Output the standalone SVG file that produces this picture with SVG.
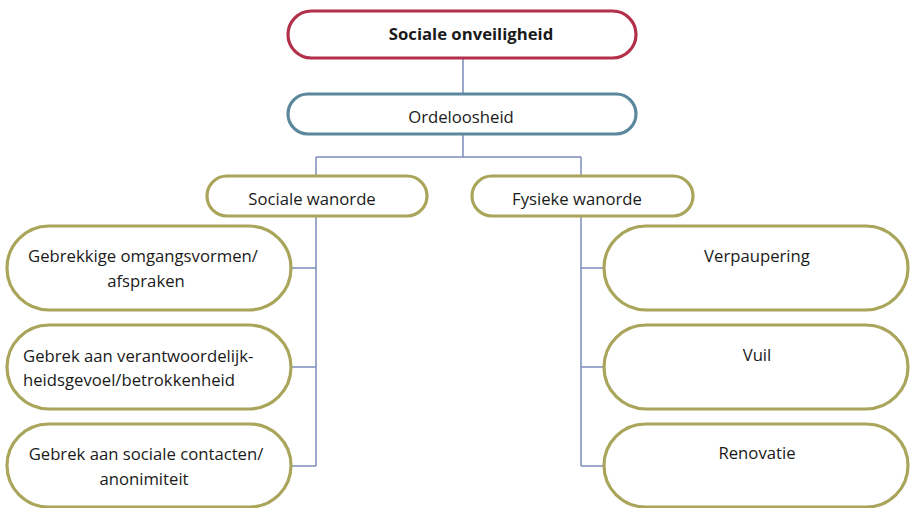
<svg xmlns="http://www.w3.org/2000/svg" width="910" height="508" viewBox="0 0 910 508">
<style>
.box{fill:#fff;stroke-width:3.2}
.red{stroke:#B3304A}
.teal{stroke:#5A879C}
.olive{stroke:#A9A55A}
.t{font-family:"Open Sans","Liberation Sans",sans-serif;font-size:16.7px;fill:#1a1a1a;text-anchor:middle}
.b{font-weight:bold}
.ln{fill:none;stroke:#7D8CBD;stroke-width:1.5}
</style>
<rect width="910" height="508" fill="#fff"/>
<g id="connectors">
<path class="ln" d="M463 58V94M463 134V157M316 157H581M316 157V176M581 157V176"/>
<path class="ln" d="M316 216V466M290 268H316M290 367H316M290 466H316"/>
<path class="ln" d="M581 216V466M581 268H604M581 367H604M581 466H604"/>
</g>
<g id="n-sociale-onveiligheid">
<rect class="box red" x="288" y="11" width="348" height="47" rx="23.5"/>
<text class="t b" x="471" y="40">Sociale onveiligheid</text>
</g>
<g id="n-ordeloosheid">
<rect class="box teal" x="288" y="94" width="348" height="40" rx="20"/>
<text class="t" x="461" y="123">Ordeloosheid</text>
</g>
<g id="n-sociale-wanorde">
<rect class="box olive" x="207" y="176" width="220" height="40" rx="20"/>
<text class="t" x="312" y="205">Sociale wanorde</text>
</g>
<g id="n-fysieke-wanorde">
<rect class="box olive" x="472" y="176" width="221" height="40" rx="20"/>
<text class="t" x="577" y="205">Fysieke wanorde</text>
</g>
<g id="n-omgangsvormen">
<rect class="box olive" x="7" y="226" width="284" height="84" rx="42"/>
<text class="t" x="143" y="262">Gebrekkige omgangsvormen/</text>
<text class="t" x="146" y="287">afspraken</text>
</g>
<g id="n-verantwoordelijkheid">
<rect class="box olive" x="7" y="325" width="284" height="84" rx="42"/>
<text class="t" x="23" y="362" style="text-anchor:start">Gebrek aan verantwoordelijk-</text>
<text class="t" x="23" y="386" style="text-anchor:start">heidsgevoel/betrokkenheid</text>
</g>
<g id="n-sociale-contacten">
<rect class="box olive" x="7" y="424" width="284" height="83" rx="41.5"/>
<text class="t" x="146" y="460">Gebrek aan sociale contacten/</text>
<text class="t" x="144" y="485">anonimiteit</text>
</g>
<g id="n-verpaupering">
<rect class="box olive" x="604" y="226" width="304" height="84" rx="42"/>
<text class="t" x="757" y="262">Verpaupering</text>
</g>
<g id="n-vuil">
<rect class="box olive" x="604" y="325" width="304" height="84" rx="42"/>
<text class="t" x="757" y="361">Vuil</text>
</g>
<g id="n-renovatie">
<rect class="box olive" x="604" y="424" width="304" height="83" rx="41.5"/>
<text class="t" x="757" y="459">Renovatie</text>
</g>
</svg>
